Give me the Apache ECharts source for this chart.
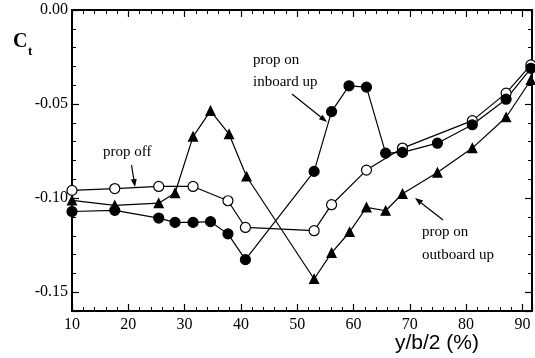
<!DOCTYPE html>
<html>
<head>
<meta charset="utf-8">
<script src="https://cdn.jsdelivr.net/npm/echarts@6.0.0/dist/echarts.min.js"></script>
<style>
  html, body { margin: 0; padding: 0; background: #fff; }
  #chart { width: 535px; height: 358px; }
</style>
</head>
<body>
<div id="chart"></div>
<script>
// spanwise station y/b/2 (%) and thrust coefficient
const xOff = [10, 17.6, 25.4, 31.5, 37.7, 40.8, 53, 56.1, 62.3, 68.7, 81.1, 87.1, 91.5];
const ctOff = [-0.0959, -0.0949, -0.0938, -0.0938, -0.1014, -0.1156, -0.1173, -0.1035, -0.0851, -0.0734, -0.0588, -0.0442, -0.0292];

const xInboard = [10, 17.6, 25.4, 28.3, 31.5, 34.6, 37.7, 40.8, 53, 56.1, 59.2, 62.3, 65.7, 68.7, 74.9, 81.1, 87.1, 91.5];
const ctInboard = [-0.1071, -0.1065, -0.1106, -0.1129, -0.1129, -0.1125, -0.119, -0.1327, -0.0858, -0.054, -0.0403, -0.041, -0.0761, -0.0757, -0.0708, -0.061, -0.0474, -0.031];

const xOutboard = [10, 17.6, 25.4, 28.3, 31.5, 34.6, 37.9, 41, 53, 56.1, 59.3, 62.3, 65.7, 68.7, 74.9, 81.1, 87.1, 91.5];
const ctOutboard = [-0.1012, -0.1039, -0.1027, -0.0973, -0.0673, -0.0536, -0.066, -0.0885, -0.143, -0.1291, -0.118, -0.1049, -0.1067, -0.0977, -0.0864, -0.0734, -0.057, -0.0372];

const xTicks = [10, 20, 30, 40, 50, 60, 70, 80, 90];
const yTicks = ['0.00', '-0.05', '-0.10', '-0.15'];

const zip = (xs, ys) => xs.map((x, i) => [x, ys[i]]);

const serif = 'Liberation Serif';
const chart = echarts.init(document.getElementById('chart'));

function axisCommon(showLabel) {
    return {
        type: 'value',
        axisLine: { show: true, onZero: false, lineStyle: { color: '#000', width: 2 } },
        axisTick: { show: true, inside: true, length: 7, lineStyle: { color: '#000', width: 1.2 } },
        minorTick: { show: true, splitNumber: 5, length: 4, lineStyle: { color: '#000', width: 1 } },
        splitLine: { show: false },
        axisLabel: { show: showLabel, color: '#000', fontFamily: serif, fontSize: 16 }
    };
}

function xAxisOpt(pos, showLabel) {
    const a = axisCommon(showLabel);
    a.position = pos;
    a.min = 10;
    a.max = 91.7;
    a.interval = 10;
    a.axisLabel.margin = 6;
    a.axisLabel.formatter = v => (xTicks.indexOf(Math.round(v * 10) / 10) >= 0 ? String(v) : '');
    return a;
}

// major ticks every 0.05, let echarts place them from the nice extent
function yAxisMajor(pos, showLabel) {
    const a = axisCommon(showLabel);
    a.position = pos;
    a.min = -0.16;
    a.max = 0;
    a.splitNumber = 3;
    a.minInterval = 0.05;
    a.maxInterval = 0.05;
    a.minorTick = { show: false };
    a.axisLabel.margin = 4;
    a.axisLabel.formatter = v => {
        const s = (Math.abs(v) < 1e-9 ? 0 : v).toFixed(2);
        return yTicks.indexOf(s) >= 0 ? s : '';
    };
    return a;
}

// minor ticks every 0.01 (min is a multiple of the interval)
function yAxisMinor(pos) {
    return {
        type: 'value', position: pos, min: -0.16, max: 0, interval: 0.01,
        axisLine: { show: false },
        axisTick: { show: true, inside: true, length: 4, lineStyle: { color: '#000', width: 1 } },
        axisLabel: { show: false },
        splitLine: { show: false }
    };
}

function arrow(x1, y1, x2, y2) {
    const a = Math.atan2(y2 - y1, x2 - x1);
    const L = 8, W = 3;
    const bx = x2 - L * Math.cos(a), by = y2 - L * Math.sin(a);
    return [
        { type: 'line', shape: { x1, y1, x2: bx, y2: by }, style: { stroke: '#000', lineWidth: 1.2 } },
        {
            type: 'polygon',
            shape: { points: [[x2, y2], [bx + W * Math.sin(a), by - W * Math.cos(a)], [bx - W * Math.sin(a), by + W * Math.cos(a)]] },
            style: { fill: '#000' }
        }
    ];
}

function label(text, x, y, size, family, weight) {
    return {
        type: 'text', x, y,
        style: {
            text, fill: '#000', font: (weight || 'normal') + ' ' + size + 'px "' + family + '"',
            textAlign: 'left', textVerticalAlign: 'middle'
        }
    };
}

const lineSeries = (name, data, symbol, size, fill) => ({
    name, type: 'line', data, symbol, symbolSize: size, showSymbol: true,
    lineStyle: { color: '#000', width: 1.2 },
    itemStyle: { color: fill, borderColor: '#000', borderWidth: 1.2 },
    animation: false
});

chart.setOption({
    animation: false,
    grid: { left: 72, right: 1, top: 10, bottom: 47 },
    xAxis: [xAxisOpt('bottom', true), xAxisOpt('top', false)],
    yAxis: [yAxisMajor('left', true), yAxisMajor('right', false), yAxisMinor('left'), yAxisMinor('right')],
    series: [
        lineSeries('prop off', zip(xOff, ctOff), 'circle', 10, '#fff'),
        lineSeries('prop on inboard up', zip(xInboard, ctInboard), 'circle', 10, '#000'),
        lineSeries('prop on outboard up', zip(xOutboard, ctOutboard), 'triangle', 9, '#000')
    ],
    graphic: [
        label('C', 13, 42, 20, serif, 'bold'),
        label('t', 28, 52, 13, serif, 'bold'),
        label('y/b/2 (%)', 395, 343, 21, 'Liberation Sans'),
        label('prop off', 103, 152, 15, serif),
        label('prop on', 253, 60, 15, serif),
        label('inboard up', 253, 82, 15, serif),
        label('prop on', 422, 232, 15, serif),
        label('outboard up', 422, 255, 15, serif),
        ...arrow(131.5, 165, 135, 187),
        ...arrow(292, 94, 327, 122),
        ...arrow(443, 220, 415, 198)
    ]
});
</script>
</body>
</html>
